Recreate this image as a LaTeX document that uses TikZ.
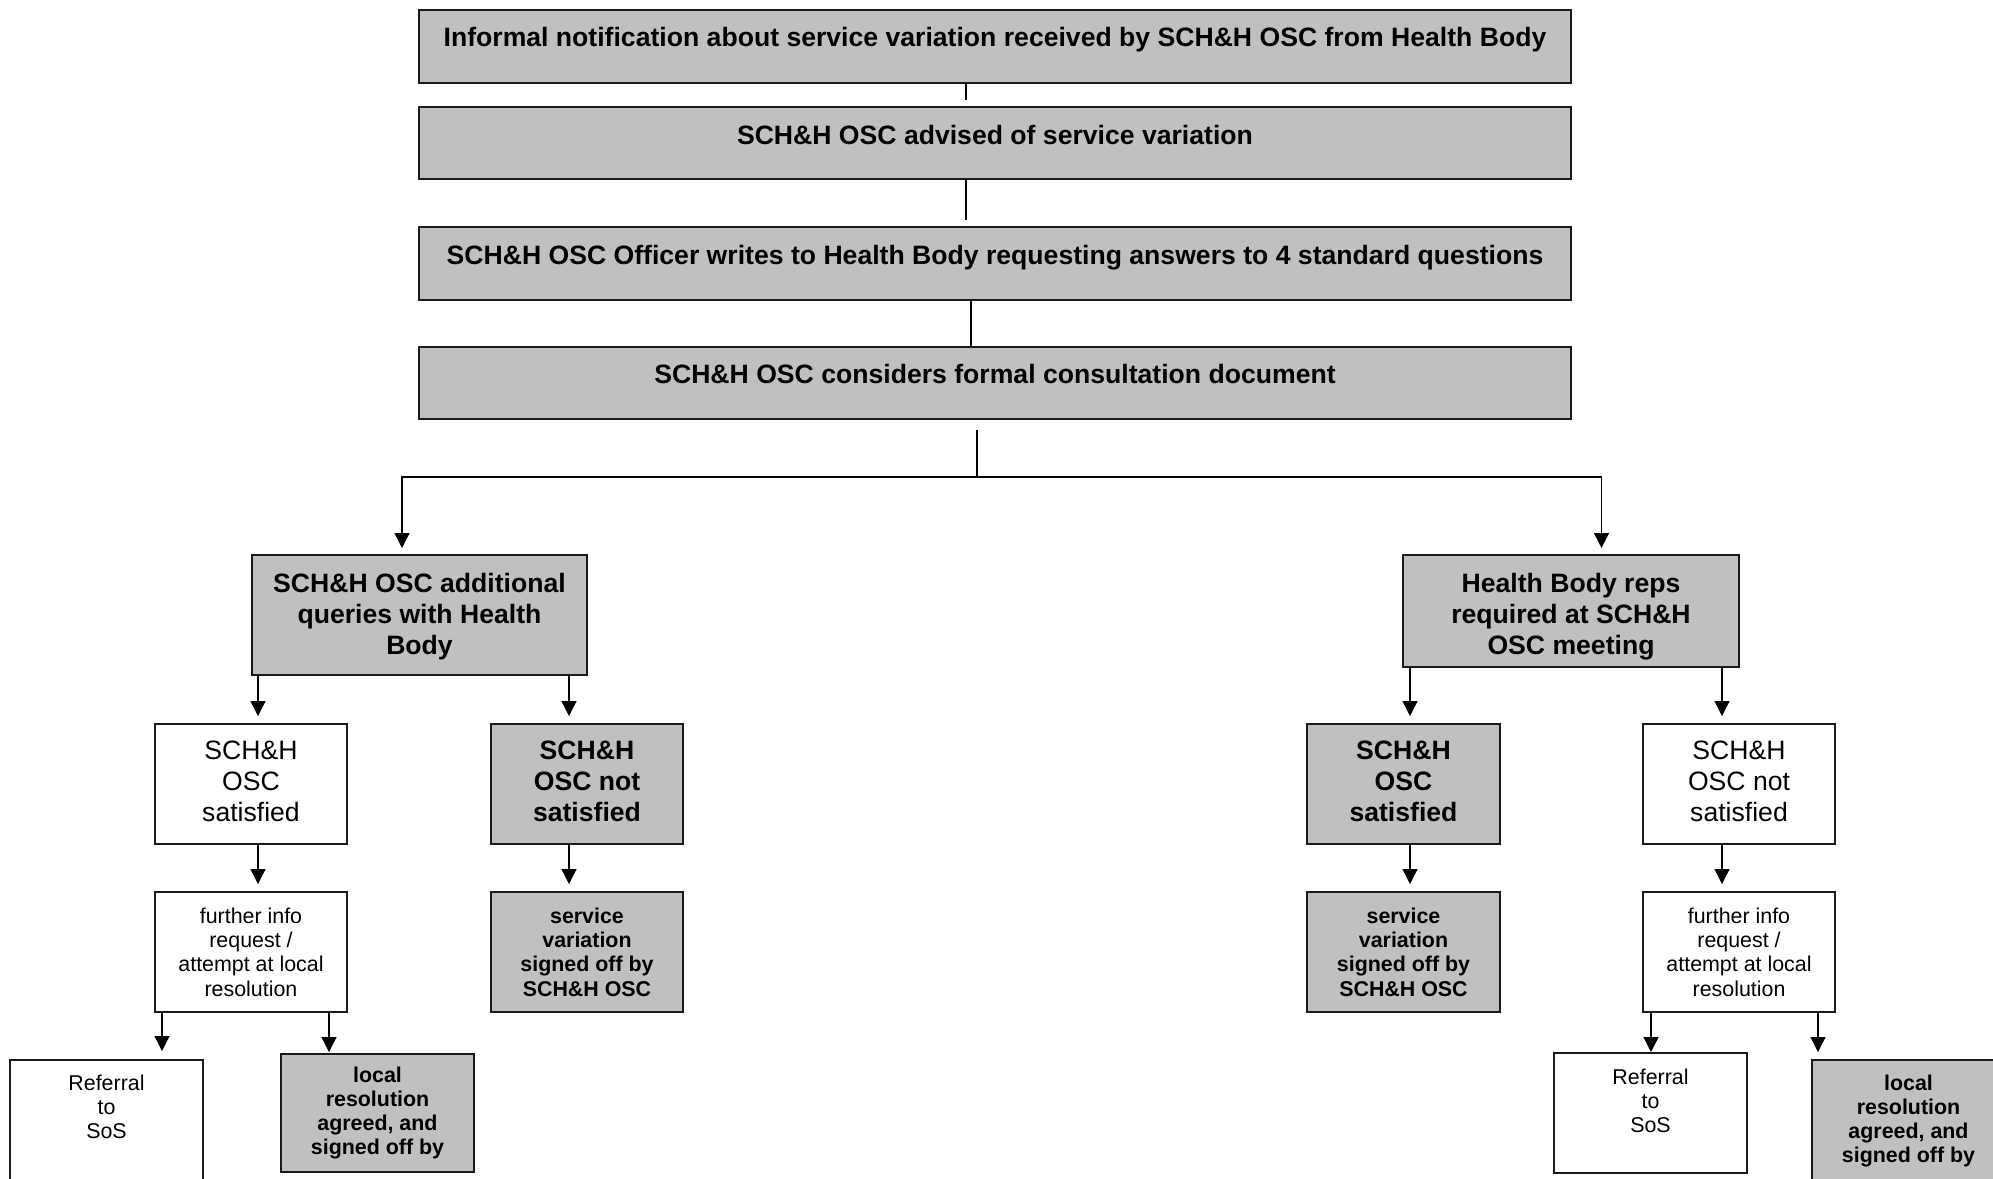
\documentclass[tikz,border=0pt]{standalone}
\usepackage{fontspec}
\setmainfont{Liberation Sans}
\usetikzlibrary{arrows.meta}
\definecolor{boxgray}{HTML}{C0C0C0}
\definecolor{edge}{HTML}{1A1A1A}
\begin{document}
\begin{tikzpicture}[x=1pt,y=-1pt,
  basebox/.style={draw=edge, line width=1.8pt, inner sep=0pt, outer sep=0pt, anchor=north west, align=center},
  graybox/.style={basebox, fill=boxgray},
  whitebox/.style={basebox, fill=white},
  bigbold/.style={font=\fontsize{26.6}{31}\selectfont\bfseries, align=center, inner sep=0pt},
  bigreg/.style={font=\fontsize{26.6}{31}\selectfont, align=center, inner sep=0pt},
  smallbold/.style={font=\fontsize{21.4}{24.3}\selectfont\bfseries, align=center, inner sep=0pt},
  smallreg/.style={font=\fontsize{21.4}{24.3}\selectfont, align=center, inner sep=0pt},
  conn/.style={line width=1.3pt, draw=black},
  arr/.style={conn, -{Triangle[length=15pt,width=15pt]}},
]
\useasboundingbox (0,0) rectangle (1993,1178);
\clip (0,0) rectangle (1993,1178);
\fill[white] (0,0) rectangle (1993,1178);

% top column
\node[graybox, minimum width=1152pt, minimum height=73pt] (n1) at (419,10) {};
\node[bigbold] (t1) at ([yshift=-29.5pt]n1.north) {Informal notification about service variation received by SCH\&H OSC from Health Body};
\node[graybox, minimum width=1152pt, minimum height=72pt] (n2) at (419,107) {};
\node[bigbold] (t2) at ([yshift=-27.5pt]n2.north) {SCH\&H OSC advised of service variation};
\node[graybox, minimum width=1152pt, minimum height=73pt] (n3) at (419,227) {};
\node[bigbold] (t3) at ([yshift=-30.5pt]n3.north) {SCH\&H OSC Officer writes to Health Body requesting answers to 4 standard questions};
\node[graybox, minimum width=1152pt, minimum height=72pt] (n4) at (419,347) {};
\node[bigbold] (t4) at ([yshift=-27pt]n4.north) {SCH\&H OSC considers formal consultation document};

% second level
\node[graybox, minimum width=335pt, minimum height=120pt] (m1) at (252,555) {};
\node[bigbold] (tm1) at ([yshift=-1.5pt]m1.center) {SCH\&H OSC additional\\queries with Health\\Body};
\node[graybox, minimum width=336pt, minimum height=112pt] (m2) at (1403,555) {};
\node[bigbold] (tm2) at ([yshift=-62pt]m2.north) {Health Body reps\\required at SCH\&H\\OSC meeting};

% third level
\node[whitebox, minimum width=192pt, minimum height=120pt] (a3) at (155,724) {};
\node[bigreg] (ta3) at ([yshift=3pt]a3.center) {SCH\&H\\OSC\\satisfied};
\node[graybox, minimum width=192pt, minimum height=120pt] (b3) at (491,724) {};
\node[bigbold] (tb3) at ([yshift=3pt]b3.center) {SCH\&H\\OSC not\\satisfied};
\node[graybox, minimum width=193pt, minimum height=120pt] (c3) at (1307,724) {};
\node[bigbold] (tc3) at ([yshift=3pt]c3.center) {SCH\&H\\OSC\\satisfied};
\node[whitebox, minimum width=192pt, minimum height=120pt] (d3) at (1643,724) {};
\node[bigreg] (td3) at ([yshift=3pt]d3.center) {SCH\&H\\OSC not\\satisfied};

% fourth level
\node[whitebox, smallreg, minimum width=192pt, minimum height=120pt] (a4) at (155,892) {further info\\request /\\attempt at local\\resolution};
\node[graybox, smallbold, minimum width=192pt, minimum height=120pt] (b4) at (491,892) {service\\variation\\signed off by\\SCH\&H OSC};
\node[graybox, smallbold, minimum width=193pt, minimum height=120pt] (c4) at (1307,892) {service\\variation\\signed off by\\SCH\&H OSC};
\node[whitebox, smallreg, minimum width=192pt, minimum height=120pt] (d4) at (1643,892) {further info\\request /\\attempt at local\\resolution};

% fifth level
\node[whitebox, minimum width=193pt, minimum height=150pt] (a5) at (10,1060) {};
\node[smallreg] (ta5) at ([yshift=-47pt]a5.north) {Referral\\to\\SoS};
\node[graybox, smallbold, minimum width=193pt, minimum height=118pt] (b5) at (281,1054) {local\\resolution\\agreed, and\\signed off by};
\node[whitebox, minimum width=193pt, minimum height=120pt] (c5) at (1554,1053) {};
\node[smallreg] (tc5) at ([yshift=-48pt]c5.north) {Referral\\to\\SoS};
\node[graybox, minimum width=193pt, minimum height=150pt] (d5) at (1812,1060) {};
\node[smallbold] (td5) at ([yshift=-61pt]d5.north) {local\\resolution\\agreed, and\\signed off by};

% connectors
\draw[conn] ([xshift=-29pt]n1.south) -- ([xshift=-29pt,yshift=7pt]n2.north);
\draw[conn] ([xshift=-29pt]n2.south) -- ([xshift=-29pt,yshift=7pt]n3.north);
\draw[conn] ([xshift=-24pt]n3.south) -- ([xshift=-24pt]n4.north);
\coordinate (j) at ([xshift=-18pt,yshift=-58pt]n4.south);
\draw[conn] ([xshift=-18pt,yshift=-11pt]n4.south) -- (j);
\draw[arr] (j) -| ([xshift=-17.5pt,yshift=7pt]m1.north);
\draw[arr] (j) -| ([xshift=30.5pt,yshift=7pt]m2.north);

\draw[arr] ([xshift=-161.5pt]m1.south) -- ([xshift=7pt,yshift=8pt]a3.north);
\draw[arr] ([xshift=149.5pt]m1.south) -- ([xshift=-18pt,yshift=8pt]b3.north);
\draw[arr] ([xshift=-161pt]m2.south) -- ([xshift=6.5pt,yshift=8pt]c3.north);
\draw[arr] ([xshift=151pt]m2.south) -- ([xshift=-17pt,yshift=8pt]d3.north);

\draw[arr] ([xshift=7pt]a3.south) -- ([xshift=7pt,yshift=8pt]a4.north);
\draw[arr] ([xshift=-18pt]b3.south) -- ([xshift=-18pt,yshift=8pt]b4.north);
\draw[arr] ([xshift=6.5pt]c3.south) -- ([xshift=6.5pt,yshift=8pt]c4.north);
\draw[arr] ([xshift=-17pt]d3.south) -- ([xshift=-17pt,yshift=8pt]d4.north);

\draw[arr] ([xshift=-89pt]a4.south) -- ([xshift=55.5pt,yshift=9pt]a5.north);
\draw[arr] ([xshift=78pt]a4.south) -- ([xshift=-48.5pt,yshift=2pt]b5.north);
\draw[arr] ([xshift=-88pt]d4.south) -- ([xshift=0.5pt,yshift=1pt]c5.north);
\draw[arr] ([xshift=79pt]d4.south) -- ([xshift=-90.5pt,yshift=8pt]d5.north);
\end{tikzpicture}
\end{document}
